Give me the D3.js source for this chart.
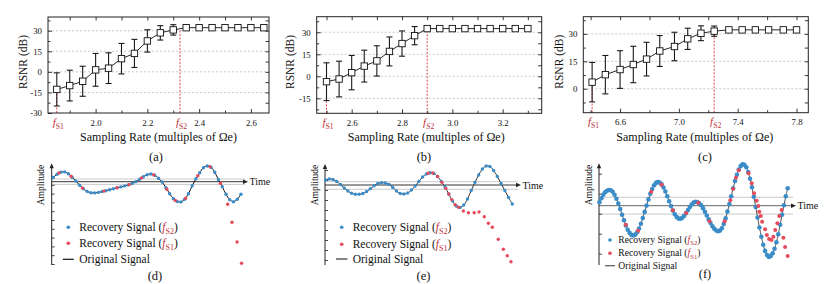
<!DOCTYPE html>
<html><head><meta charset="utf-8">
<script src="https://cdn.jsdelivr.net/npm/d3@7/dist/d3.min.js"></script>
<style>
body{margin:0;background:#fff;}
svg{display:block;}
text{font-family:"Liberation Serif","Times New Roman",serif;}
</style></head><body>
<svg id="chart" width="830" height="284"></svg>
<script>
// ---------------- data: RSNR vs sampling rate ----------------
const rateA = [1.85,1.90,1.95,2.00,2.05,2.10,2.15,2.20,2.25,2.30,2.35,2.40,2.45,2.50,2.55,2.60,2.65];
const rsnrA = [-12.8,-10.0,-6.85,1.45,2.7,9.6,13.45,22.55,28.45,30.6,32.2,32.2,32.2,32.2,32.2,32.2,32.2];
const errA  = [12.1,11.2,10.95,11.95,11.2,11.1,10.25,8.15,5.25,3.8,0,0,0,0,0,0,0];
const fsA = [1.85, 2.326], fsTopA = [-12.8, 31.8];
const xMajorA = [2.0,2.2,2.4,2.6], xMinorA = [1.9,2.1,2.3,2.5];
const yMajorA = [-30,-15,0,15,30], yMinorA = [-22.5,-7.5,7.5,22.5,37.5];

const rateB = [2.50,2.55,2.60,2.65,2.70,2.75,2.80,2.85,2.90,2.95,3.00,3.05,3.10,3.15,3.20,3.25,3.30];
const rsnrB = [-3.65,-1.85,2.5,6.95,10.5,16.95,22.3,27.7,32.5,32.5,32.5,32.5,32.5,32.5,32.5,32.5,32.5];
const errB  = [12.85,12.15,11.7,10.85,10.3,9.85,8.6,6.2,0,0,0,0,0,0,0,0,0];
const fsB = [2.50, 2.90], fsTopB = [-3.65, 32.5];
const xMajorB = [2.6,2.8,3.0,3.2], xMinorB = [2.5,2.7,2.9,3.1,3.3];
const yMajorB = [-15,0,15,30], yMinorB = [-22.5,-7.5,7.5,22.5,37.5];

const rateC = [6.41,6.50,6.60,6.69,6.78,6.87,6.97,7.06,7.15,7.24,7.34,7.43,7.52,7.61,7.71,7.80];
const rsnrC = [3.6,7.7,10.5,13.25,16.2,20.65,23.1,27.3,30.35,31.5,32.2,32.2,32.2,32.2,32.2,32.2];
const errC  = [10.8,10.5,10.3,9.95,9.2,8.45,7.8,5.8,4.05,2.8,0,0,0,0,0,0];
const fsC = [6.41, 7.24], fsTopC = [3.6, 31.5];
const xMajorC = [6.6,7.0,7.4,7.8], xMinorC = [6.4,6.8,7.2,7.6];
const yMajorC = [0,15,30], yMinorC = [-7.5,7.5,22.5,37.5];

// ---------------- data: recovered signals ----------------
const blueD = [0.42,0.75,0.95,0.98,0.8,0.45,0.07,-0.35,-0.7,-0.97,
  -1.1,-1.12,-1.07,-0.98,-0.9,-0.8,-0.7,-0.6,-0.52,-0.42,
  -0.32,-0.18,0,0.25,0.5,0.7,0.77,0.65,0.35,-0.03,
  -0.6,-1.2,-1.7,-1.98,-2.02,-1.75,-1.2,-0.4,0.3,0.9,
  1.4,1.57,1.45,0.95,0.2,-0.5,-1.25,-1.8,-2.0,-1.75,-1.25];
const redTD = [3,9.5,15.5,27,34,40.5,47,53.5,60.5,65,70.5,77,83.5,89,92.9,95.2,97.9,100.3];
const redD  = [0.87,0.55,-0.62,-0.94,-0.6,-0.29,0.38,0.68,-0.75,-1.87,-1.65,0.6,1.5,-0.15,-2.26,-4.06,-6.03,-8.16];
const tickD = [0.57,-0.31,-1.19,-2.07,-2.95,-3.83,-4.71,-5.59,-6.47,-7.35,-8.23];

const blueE = [0.5,0.6,0.55,0.35,0.05,-0.3,-0.6,-0.82,-0.92,-0.93,
  -0.85,-0.65,-0.38,-0.08,0.15,0.23,0.2,0.05,-0.25,-0.6,
  -0.85,-0.9,-0.8,-0.5,-0.1,0.35,0.8,1.1,1.23,1.15,
  0.85,0.35,-0.2,-0.9,-1.6,-2.1,-2.25,-2.0,-1.4,-0.55,
  0.25,1.0,1.6,1.9,1.85,1.45,0.85,0.15,-0.55,-1.25,-1.9];
const redTE = [55,57.5,60,62.3,64.4,66,67.6,69.4,71.2,73.8,76.5,79.6,82.2,85,87.2,89.3,92.5,95.2,97.3,99.3];
const redE  = [1.18,1.2,0.85,0.27,-0.34,-0.9,-1.46,-1.98,-2.22,-2.6,-2.77,-2.77,-2.7,-3.17,-3.83,-4.23,-5.43,-6.43,-7.07,-7.67];
const tickE = [1.5,0.5,-0.5,-1.5,-2.5,-3.5,-4.5,-5.5,-6.5,-7.5];

const blueF = [0.34,0.75,1.1,1.35,1.5,1.57,
  1.55,1.39,1.10,0.70,0.21,-0.33,-0.91,-1.46,-1.97,-2.40,-2.72,-2.92,
  -2.98,-2.89,-2.65,-2.28,-1.80,-1.24,-0.62,0.01,0.63,1.19,1.67,2.04,2.28,2.37,
  2.31,2.13,1.82,1.42,0.95,0.45,-0.04,-0.49,-0.86,-1.14,-1.29,
  -1.30,-1.20,-1.01,-0.74,-0.44,-0.14,0.12,0.31,0.40,
  0.37,0.25,0.04,-0.25,-0.60,-0.98,-1.37,-1.73,-2.05,-2.31,-2.48,-2.55,
  -2.49,-2.25,-1.83,-1.27,-0.59,0.16,0.95,1.74,2.47,3.10,3.61,3.96,4.13,
  4.10,3.84,3.36,2.69,1.85,0.89,-0.13,-1.18,-2.18,-3.11,-3.90,-4.52,-4.93,-5.12,
  -5.02,-4.75,-4.30,-3.65,-2.85,-1.90,-0.90,0.05,0.95,1.74];
const redTF = [14,20.5,27.5,33,39,46,52.5,58.5,66.5,69.5,71,72.5,74,79.2,80.9,82.1,83.5,84.4,84.9,85.7,86.4,88,88.9,90.1,91.4,92.4,93.4,94.5,95.5,96.8,97.7,98.6,100];
const redF  = [-1.9,-2.5,1.4,2.1,-0.45,-0.74,0.3,-1.55,-1.55,0.55,1.7,2.8,3.55,3.24,2.24,1.24,0.5,-0.03,-0.6,-1.03,-1.6,-2.36,-2.93,-3.33,-3.43,-3.1,-2.43,-1.76,-1.03,-0.43,-3.2,-4.13,-5.03];
const tickF = [3.2,1.2,-0.8,-2.8,-4.8];

// ---------------- drawing ----------------
const svg = d3.select('#chart');
const FONT = '"Liberation Serif","Times New Roman",serif';
const RED = '#c0303a', DASH = '#e0474c', BLUE = '#3a8dc8', PINK = '#e64a5b';

function fsText(g, x, y, sub, size) {
  const t = g.append('text').attr('x', x).attr('y', y).attr('text-anchor', 'middle')
    .attr('fill', RED).attr('font-family', FONT).style('font-size', size + 'px');
  t.append('tspan').style('font-style', 'italic').text('f');
  t.append('tspan').attr('dy', size * 0.28).style('font-size', (size * 0.7) + 'px').text(sub);
  return t;
}

function styleAxis(a) {
  a.attr('font-family', FONT).attr('font-size', 8.8);
  a.select('.domain').remove();
  a.selectAll('.tick line').attr('stroke', '#222').attr('stroke-width', 0.9);
  a.selectAll('.tick text').attr('fill', '#111');
}

function drawTop(c) {
  const g = svg.append('g').attr('font-family', FONT);
  const x = d3.scaleLinear().domain(c.xd).range([c.x0, c.x1]);
  const y = d3.scaleLinear().domain(c.yd).range([c.y1, c.y0]);
  g.selectAll('line.grid').data(c.yMajor.filter(v => v > c.yd[0] + 1 && v < c.yd[1] - 1)).join('line')
    .attr('x1', c.x0).attr('x2', c.x1).attr('y1', d => y(d)).attr('y2', d => y(d))
    .attr('stroke', '#bdbdbd').attr('stroke-width', 0.8).attr('stroke-dasharray', '2,2');
  c.fs.forEach((f, i) => {
    g.append('line').attr('x1', x(f)).attr('x2', x(f)).attr('y1', c.y1).attr('y2', y(c.fsTop[i]))
      .attr('stroke', DASH).attr('stroke-width', 1).attr('stroke-dasharray', '2,1.5');
  });
  const pts = c.rate.map((r, i) => ({ r, v: c.rsnr[i], e: c.err[i] }));
  g.append('path').datum(pts).attr('d', d3.line().x(d => x(d.r)).y(d => y(d.v)))
    .attr('fill', 'none').attr('stroke', '#111').attr('stroke-width', 0.9);
  const eb = g.selectAll('g.eb').data(pts.filter(d => d.e > 0)).join('g');
  eb.append('line').attr('x1', d => x(d.r)).attr('x2', d => x(d.r)).attr('y1', d => y(d.v - d.e)).attr('y2', d => y(d.v + d.e))
    .attr('stroke', '#1a1a1a').attr('stroke-width', 1.1);
  [1, -1].forEach(s => {
    eb.append('line').attr('x1', d => x(d.r) - 3).attr('x2', d => x(d.r) + 3)
      .attr('y1', d => y(d.v + s * d.e)).attr('y2', d => y(d.v + s * d.e))
      .attr('stroke', '#1a1a1a').attr('stroke-width', 1.1);
  });
  g.selectAll('rect.pt').data(pts).join('rect')
    .attr('x', d => x(d.r) - 3.2).attr('y', d => y(d.v) - 3.2).attr('width', 6.4).attr('height', 6.4)
    .attr('fill', '#fff').attr('stroke', '#111').attr('stroke-width', 0.9);
  const bx = g.append('g').attr('transform', `translate(0,${c.y1})`)
    .call(d3.axisBottom(x).tickValues(c.xMajor).tickSize(-4).tickPadding(6.5).tickFormat(d3.format('.1f')));
  styleAxis(bx);
  const bxm = g.append('g').attr('transform', `translate(0,${c.y1})`)
    .call(d3.axisBottom(x).tickValues(c.xMinor).tickSize(-2.5).tickFormat(''));
  styleAxis(bxm);
  const tx = g.append('g').attr('transform', `translate(0,${c.y0})`)
    .call(d3.axisTop(x).tickValues(c.xMajor.concat(c.xMinor)).tickSize(-3.5).tickFormat(''));
  styleAxis(tx);
  const ly = g.append('g').attr('transform', `translate(${c.x0},0)`)
    .call(d3.axisLeft(y).tickValues(c.yMajor).tickSize(-4).tickPadding(6).tickFormat(d => String(d)));
  styleAxis(ly);
  const lym = g.append('g').attr('transform', `translate(${c.x0},0)`)
    .call(d3.axisLeft(y).tickValues(c.yMinor.filter(v => v > c.yd[0] && v < c.yd[1])).tickSize(-2.5).tickFormat(''));
  styleAxis(lym);
  const ry = g.append('g').attr('transform', `translate(${c.x1},0)`)
    .call(d3.axisRight(y).tickValues(c.yMajor.concat(c.yMinor).filter(v => v > c.yd[0] && v < c.yd[1])).tickSize(-3.5).tickFormat(''));
  styleAxis(ry);
  g.append('rect').attr('x', c.x0).attr('y', c.y0).attr('width', c.x1 - c.x0).attr('height', c.y1 - c.y0)
    .attr('fill', 'none').attr('stroke', '#222').attr('stroke-width', 1);
  fsText(g, x(c.fs[0]) + 1.5, c.y1 + 12.5, 'S1', 11);
  fsText(g, x(c.fs[1]) + 1.5, c.y1 + 12.5, 'S2', 11);
  g.append('text').attr('x', (c.x0 + c.x1) / 2 + c.titleDx).attr('y', 141).attr('text-anchor', 'middle')
    .style('font-size', '12px').attr('fill', '#111').text('Sampling Rate (multiples of \u03A9e)');
  g.append('text').attr('transform', `translate(${c.ylabX},${(c.y0 + c.y1) / 2 - 3}) rotate(-90)`)
    .attr('text-anchor', 'middle').style('font-size', '11.5px').attr('fill', '#111').text('RSNR (dB)');
  g.append('text').attr('x', c.labX).attr('y', 160.5).attr('text-anchor', 'middle')
    .style('font-size', '12.5px').attr('fill', '#111').text(c.label);
}

drawTop({ x0: 48, x1: 269, y0: 17, y1: 113, xd: [1.816, 2.67], yd: [-30, 40],
  rate: rateA, rsnr: rsnrA, err: errA, fs: fsA, fsTop: fsTopA,
  xMajor: xMajorA, xMinor: xMinorA, yMajor: yMajorA, yMinor: yMinorA,
  ylabX: 27, titleDx: 0, labX: 156, label: '(a)' });
drawTop({ x0: 316.7, x1: 541.7, y0: 16.7, y1: 113.3, xd: [2.461, 3.355], yd: [-25.2, 40.6],
  rate: rateB, rsnr: rsnrB, err: errB, fs: fsB, fsTop: fsTopB,
  xMajor: xMajorB, xMinor: xMinorB, yMajor: yMajorB, yMinor: yMinorB,
  ylabX: 294, titleDx: -3, labX: 424, label: '(b)' });
drawTop({ x0: 583.3, x1: 808.3, y0: 16.7, y1: 112.7, xd: [6.35, 7.88], yd: [-13.1, 39.4],
  rate: rateC, rsnr: rsnrC, err: errC, fs: fsC, fsTop: fsTopC,
  xMajor: xMajorC, xMinor: xMinorC, yMajor: yMajorC, yMinor: yMinorC,
  ylabX: 563, titleDx: -1, labX: 705, label: '(c)' });

function drawBottom(c) {
  const g = svg.append('g').attr('font-family', FONT);
  const x = d3.scaleLinear().domain([0, 100]).range(c.tx);
  const y = d3.scaleLinear().domain([-10, 0]).range([c.axisY + 100, c.axisY]);
  c.band.forEach(b => {
    g.append('line').attr('x1', c.axisX).attr('x2', c.arrowX - 3).attr('y1', y(b)).attr('y2', y(b))
      .attr('stroke', '#c4c4c4').attr('stroke-width', 0.9);
  });
  g.append('line').attr('x1', c.axisX).attr('x2', c.arrowX - 3).attr('y1', c.axisY).attr('y2', c.axisY)
    .attr('stroke', c.axisColor).attr('stroke-width', 1);
  g.append('path').attr('d', `M${c.arrowX},${c.axisY}L${c.arrowX - 5},${c.axisY - 2.2}L${c.arrowX - 5},${c.axisY + 2.2}Z`).attr('fill', '#222');
  g.append('text').attr('x', c.arrowX + 1.5).attr('y', c.axisY + 3.5).style('font-size', c.timeSize + 'px').attr('fill', '#111').text('Time');
  g.append('line').attr('x1', c.axisX).attr('x2', c.axisX).attr('y1', c.top + 3).attr('y2', c.bottom)
    .attr('stroke', '#222').attr('stroke-width', 1);
  g.append('path').attr('d', `M${c.axisX},${c.top}L${c.axisX - 2.2},${c.top + 5}L${c.axisX + 2.2},${c.top + 5}Z`).attr('fill', '#222');
  const ya = g.append('g').attr('transform', `translate(${c.axisX},0)`)
    .call(d3.axisRight(y).tickValues(c.ticks).tickSize(3).tickFormat(''));
  ya.select('.domain').remove();
  ya.selectAll('.tick line').attr('stroke', '#333').attr('stroke-width', 0.9);
  g.append('text').attr('transform', `translate(${c.ampX},185) rotate(-90)`).attr('text-anchor', 'middle')
    .style('font-size', '9.5px').attr('fill', '#111').text('Amplitude');
  const blue = c.blue.map((v, i) => ({ t: i * c.step, v }));
  g.append('path').datum(blue).attr('d', d3.line().curve(d3.curveCatmullRom).x(d => x(d.t)).y(d => y(d.v)))
    .attr('fill', 'none').attr('stroke', c.lineColor).attr('stroke-width', 1);
  g.selectAll('circle.b').data(blue).join('circle').attr('cx', d => x(d.t)).attr('cy', d => y(d.v))
    .attr('r', c.r).attr('fill', BLUE);
  const red = c.redT.map((t, i) => ({ t, v: c.red[i] }));
  g.selectAll('circle.r').data(red).join('circle').attr('cx', d => x(d.t)).attr('cy', d => y(d.v))
    .attr('r', c.rr).attr('fill', PINK);
  const L = c.leg;
  g.append('circle').attr('cx', L.x).attr('cy', L.y[0]).attr('r', 1.8).attr('fill', BLUE);
  g.append('circle').attr('cx', L.x).attr('cy', L.y[1]).attr('r', 1.8).attr('fill', PINK);
  g.append('line').attr('x1', L.x - L.len / 2).attr('x2', L.x + L.len / 2).attr('y1', L.y[2]).attr('y2', L.y[2])
    .attr('stroke', c.lineColor).attr('stroke-width', 1.2);
  ['S2', 'S1'].forEach((s, i) => {
    const t = g.append('text').attr('x', L.tx).attr('y', L.y[i] + L.fs * 0.32).style('font-size', L.fs + 'px').attr('fill', '#111');
    t.append('tspan').text('Recovery Signal (');
    t.append('tspan').attr('fill', RED).style('font-style', 'italic').text('f');
    t.append('tspan').attr('fill', RED).attr('dy', L.fs * 0.25).style('font-size', (L.fs * 0.7) + 'px').text(s);
    t.append('tspan').attr('dy', -L.fs * 0.25).text(')');
  });
  g.append('text').attr('x', L.tx).attr('y', L.y[2] + L.fs * 0.32).style('font-size', L.fs + 'px').attr('fill', '#111').text('Original Signal');
  g.append('text').attr('x', c.labX).attr('y', c.labY).attr('text-anchor', 'middle')
    .style('font-size', '12.5px').attr('fill', '#111').text(c.label);
}

drawBottom({ axisX: 51.7, axisY: 181.7, top: 163.3, bottom: 265, tx: [53.3, 241], arrowX: 248, band: [-0.27, 0.27],
  axisColor: '#333', timeSize: 10, ticks: tickD, ampX: 44, blue: blueD, step: 2, redT: redTD, red: redD, r: 1.7, rr: 1.7,
  lineColor: '#111', leg: { x: 68.3, y: [227.3, 243.3, 259.3], len: 11, tx: 79.3, fs: 11.5 }, labX: 155, labY: 280, label: '(d)' });
drawBottom({ axisX: 325, axisY: 185, top: 164, bottom: 265, tx: [325.5, 512.3], arrowX: 521, band: [0.33, -0.43],
  axisColor: '#333', timeSize: 10, ticks: tickE, ampX: 318, blue: blueE, step: 2, redT: redTE, red: redE, r: 1.7, rr: 1.7,
  lineColor: '#333', leg: { x: 341.7, y: [227.3, 244.3, 259], len: 11.5, tx: 352.7, fs: 11.5 }, labX: 423.5, labY: 280, label: '(e)' });
drawBottom({ axisX: 599, axisY: 205.7, top: 163.3, bottom: 265, tx: [599.5, 787.7], arrowX: 796, band: [0.84, -0.84],
  axisColor: '#666', timeSize: 10, ticks: tickF, ampX: 592, blue: blueF, step: 1, redT: redTF, red: redF, r: 2.3, rr: 2,
  lineColor: '#555', leg: { x: 610, y: [240, 253.3, 265.7], len: 10, tx: 618.3, fs: 9.6 }, labX: 705, labY: 278, label: '(f)' });
</script>
</body></html>
